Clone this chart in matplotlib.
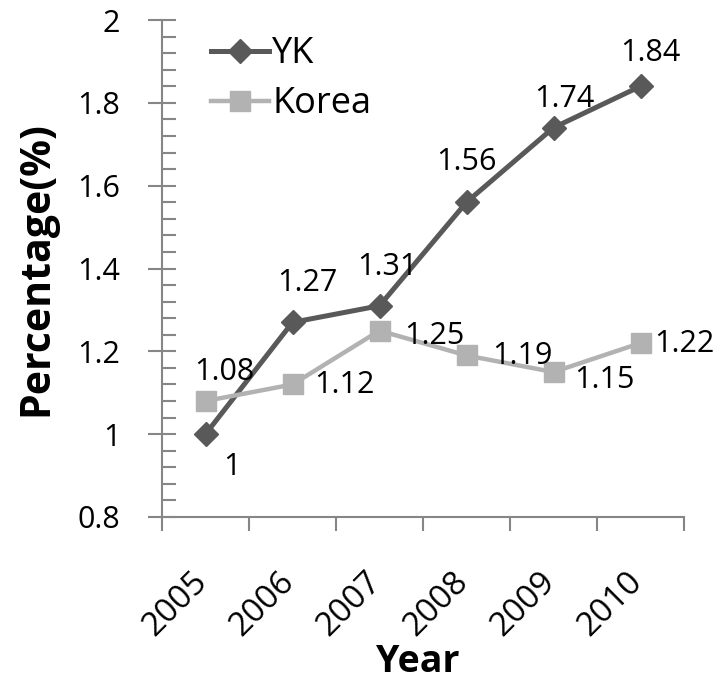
import numpy as np
import matplotlib.pyplot as plt
from matplotlib.transforms import ScaledTranslation

years = ["2005", "2006", "2007", "2008", "2009", "2010"]
yk = [1.00, 1.27, 1.31, 1.56, 1.74, 1.84]
korea = [1.08, 1.12, 1.25, 1.19, 1.15, 1.22]

# label offsets in pixels (dx, dy) from each point
yk_off = [(26, -33), (15, 39), (8, 39), (0, 40), (11, 29), (10, 33)]
korea_off = [(19, 29), (52, -1), (55, -5), (56, -1), (51, -8), (44, -1)]

plt.rcParams['font.family'] = ['Open Sans', 'DejaVu Sans']

fig = plt.figure(figsize=(7.28, 6.85), dpi=100)
ax = fig.add_axes([162 / 728, 1 - 517 / 685, (684 - 162) / 728, (517 - 20) / 685])

x = np.arange(len(years))
ax.plot(x, yk, color="#595959", lw=3.6, marker="D", ms=12, label="YK")
ax.plot(x, korea, color="#b2b2b2", lw=3.2, marker="s", ms=14, label="Korea")

for xi, v, (dx, dy) in zip(x, yk, yk_off):
    ax.annotate("{:g}".format(v), (xi, v), xytext=(dx * 0.72, dy * 0.72),
                textcoords="offset points", ha="center", va="center", fontsize=22)
for xi, v, (dx, dy) in zip(x, korea, korea_off):
    ax.annotate("{:g}".format(v), (xi, v), xytext=(dx * 0.72, dy * 0.72),
                textcoords="offset points", ha="center", va="center", fontsize=22)

ax.set_xlim(-0.5, 5.5)
ax.set_ylim(0.8, 2.0)

ax.set_yticks(np.arange(0.8, 2.01, 0.2))
ax.set_yticklabels(["0.8", "1", "1.2", "1.4", "1.6", "1.8", "2"])
ax.set_yticks(np.arange(0.8, 2.01, 0.04), minor=True)
ax.tick_params(axis="y", which="major", direction="inout", length=20, width=1.5,
               color="#868686", labelsize=22, pad=20)
ax.tick_params(axis="y", which="minor", direction="in", length=10, width=1.5, color="#868686")

# year labels sit between the boundary ticks
ax.set_xticks(np.arange(-0.5, 5.6, 1))
ax.set_xticklabels([])
ax.set_xticks(x, minor=True)
ax.set_xticklabels(years, minor=True, rotation=45, ha="right", fontsize=24)
ax.tick_params(axis="x", which="major", direction="out", length=10, width=1.5, color="#868686")
ax.tick_params(axis="x", which="minor", length=0, pad=35)
shift = ScaledTranslation(9 / 100, 0, fig.dpi_scale_trans)
for lbl in ax.get_xticklabels(minor=True):
    lbl.set_transform(lbl.get_transform() + shift)

for s in ["top", "right"]:
    ax.spines[s].set_visible(False)
for s in ["left", "bottom"]:
    ax.spines[s].set_color("#868686")
    ax.spines[s].set_linewidth(1.5)

ax.set_xlabel("Year", fontsize=27, fontweight="bold", va="center")
ax.xaxis.set_label_coords(0.489, -0.292)
ax.set_ylabel("Percentage(%)", fontsize=29.5, fontweight="bold", va="center")
ax.yaxis.set_label_coords(-0.24, 0.5)

ax.legend(loc="upper left", bbox_to_anchor=(0.066, 0.996), frameon=False, fontsize=26,
          handlelength=1.6, handletextpad=0.1, labelspacing=0.38, borderaxespad=0)

fig.savefig("out.png", dpi=100)
